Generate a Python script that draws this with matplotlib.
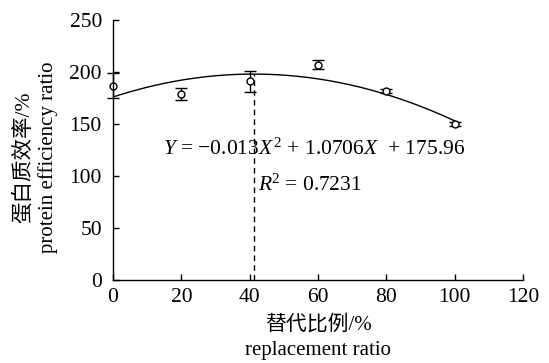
import matplotlib
matplotlib.use("Agg")
import matplotlib.pyplot as plt
import numpy as np

plt.rcParams['font.family'] = ['Liberation Serif', 'Noto Sans CJK SC']
plt.rcParams['mathtext.fontset'] = 'custom'
plt.rcParams['mathtext.rm'] = 'Liberation Serif'
plt.rcParams['mathtext.it'] = 'Liberation Serif:italic'

x_vals = [0, 20, 40, 60, 80, 100]
y_vals = [187, 179, 191, 207, 182, 150]
y_err = [12, 6, 10, 4.5, 2, 2]
coef = [-0.013, 1.0706, 175.96]
x_ticks = [0, 20, 40, 60, 80, 100, 120]
y_ticks = [0, 50, 100, 150, 200, 250]

W, H = 549, 363
fig = plt.figure(figsize=(W / 100, H / 100), dpi=100)
ax = fig.add_axes([113 / W, 1 - 280 / H, 410 / W, 260 / H])

xf = np.linspace(0, 100, 200)
yf = np.polyval(coef, xf)
ax.plot(xf, yf, color='black', lw=1.0)
eb = ax.errorbar(x_vals, y_vals, yerr=y_err, fmt='o', mfc='white', mec='black',
                 ecolor='black', ms=5, mew=1.0, elinewidth=1.0, capsize=4.5, capthick=1.0)
for art in eb.lines[0:1] + tuple(eb.lines[1]) + tuple(eb.lines[2]):
    art.set_clip_on(False)

xv = -coef[1] / (2 * coef[0])
ax.plot([xv, xv], [0, np.polyval(coef, xv)], color='black', lw=1.0, ls=(0, (4, 3)))

ax.text(59, 126, r'$Y$ = −0.013$X$$^{\,2}$ + 1.0706$X$  + 175.96', ha='center', va='center', fontsize=15.5)
ax.text(57.5, 91, r'$R$$^2$ = 0.7231', ha='center', va='center', fontsize=15.5)

ax.set_xlim(0, 120)
ax.set_ylim(0, 250)
ax.set_xticks(x_ticks)
ax.set_yticks(y_ticks)
ax.tick_params(direction='in', labelsize=15.5, length=4, width=1.0)
ax.tick_params(axis='y', pad=8)
ax.tick_params(axis='x', pad=6)
for s in ['top', 'right']:
    ax.spines[s].set_visible(False)
for s in ['left', 'bottom']:
    ax.spines[s].set_linewidth(1.0)

fig.text(318 / W, 1 - 325 / H, '替代比例/%', ha='center', va='center', fontsize=15)
fig.text(318 / W, 1 - 350 / H, 'replacement ratio', ha='center', va='center', fontsize=15)
fig.text(24 / W, 1 - 157 / H, '蛋白质效率/%', ha='center', va='center', rotation=90, fontsize=15.5)
fig.text(48 / W, 1 - 157 / H, 'protein efficiency ratio', ha='center', va='center', rotation=90, fontsize=15)

fig.savefig('out.png', dpi=100)
